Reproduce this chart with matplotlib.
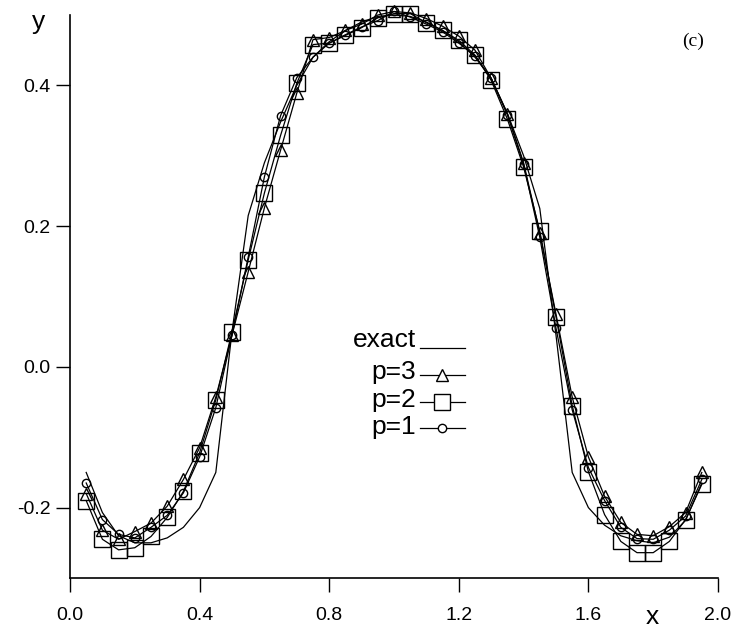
import matplotlib
matplotlib.use("Agg")
import matplotlib.pyplot as plt
from matplotlib.lines import Line2D

plt.rcParams['font.family'] = ['Liberation Sans', 'DejaVu Sans']

# sample positions
x = [0.05, 0.10, 0.15, 0.20, 0.25, 0.30, 0.35, 0.40, 0.45, 0.50,
     0.55, 0.60, 0.65, 0.70, 0.75, 0.80, 0.85, 0.90, 0.95, 1.00,
     1.05, 1.10, 1.15, 1.20, 1.25, 1.30, 1.35, 1.40, 1.45, 1.50,
     1.55, 1.60, 1.65, 1.70, 1.75, 1.80, 1.85, 1.90, 1.95]

y_exact = [-0.150, -0.207, -0.240, -0.250, -0.250, -0.243, -0.228, -0.200, -0.150, 0.050,
           0.215, 0.290, 0.348, 0.400, 0.440, 0.462, 0.478, 0.490, 0.498, 0.500,
           0.498, 0.490, 0.478, 0.462, 0.440, 0.410, 0.360, 0.300, 0.225, 0.045,
           -0.150, -0.200, -0.225, -0.240, -0.247, -0.250, -0.242, -0.218, -0.165]

y_p3 = [-0.180, -0.232, -0.245, -0.234, -0.222, -0.198, -0.160, -0.115, -0.043, 0.045,
        0.135, 0.226, 0.308, 0.389, 0.465, 0.468, 0.478, 0.487, 0.500, 0.505,
        0.503, 0.495, 0.484, 0.470, 0.450, 0.410, 0.360, 0.290, 0.190, 0.075,
        -0.043, -0.128, -0.184, -0.221, -0.238, -0.240, -0.227, -0.207, -0.150]

y_p2 = [-0.190, -0.245, -0.260, -0.257, -0.241, -0.214, -0.177, -0.122, -0.047, 0.050,
        0.152, 0.247, 0.329, 0.403, 0.458, 0.460, 0.471, 0.482, 0.496, 0.502,
        0.502, 0.489, 0.478, 0.464, 0.443, 0.407, 0.352, 0.284, 0.193, 0.071,
        -0.055, -0.149, -0.210, -0.248, -0.264, -0.264, -0.248, -0.217, -0.167]

y_p1 = [-0.165, -0.217, -0.238, -0.243, -0.228, -0.211, -0.179, -0.128, -0.058, 0.045,
        0.156, 0.270, 0.357, 0.411, 0.440, 0.460, 0.472, 0.483, 0.492, 0.505,
        0.497, 0.487, 0.476, 0.460, 0.442, 0.410, 0.358, 0.288, 0.184, 0.055,
        -0.061, -0.143, -0.190, -0.228, -0.244, -0.245, -0.232, -0.212, -0.160]

x_ticks = [0.0, 0.4, 0.8, 1.2, 1.6, 2.0]
y_ticks = [-0.2, 0.0, 0.2, 0.4]
labels = ['exact', 'p=3', 'p=2', 'p=1']

fig = plt.figure(figsize=(7.36, 6.35), dpi=100)
ax = fig.add_axes([70 / 736, 57 / 635, 648 / 736, 563 / 635])

ax.plot(x, y_exact, color='black', lw=0.9, clip_on=False)
ax.plot(x, y_p3, color='black', lw=0.9, marker='^', ms=9, mfc='none', mec='black', mew=1.0, clip_on=False)
ax.plot(x, y_p2, color='black', lw=0.9, marker='s', ms=12, mfc='none', mec='black', mew=1.0, clip_on=False)
ax.plot(x, y_p1, color='black', lw=0.9, marker='o', ms=6, mfc='none', mec='black', mew=1.0, clip_on=False)

ax.set_xlim(0.0, 2.0)
ax.set_ylim(-0.3, 0.5)
ax.set_xticks(x_ticks)
ax.set_xticklabels(['%.1f' % v for v in x_ticks])
ax.set_yticks(y_ticks)
ax.set_yticklabels(['%.1f' % v for v in y_ticks])
ax.spines['top'].set_visible(False)
ax.spines['right'].set_visible(False)
ax.spines['left'].set_linewidth(1.2)
ax.spines['bottom'].set_linewidth(1.2)
ax.tick_params(axis='both', direction='out', length=10, width=1.0, labelsize=14)
ax.tick_params(axis='x', pad=11)
ax.tick_params(axis='y', pad=4)

# axis labels
fig.text(39 / 736, 1 - 22 / 635, 'y', fontsize=19, ha='center', va='center')
fig.text(652 / 736, 1 - 617 / 635, 'x', fontsize=19, ha='center', va='center')
fig.text(693 / 736, 1 - 41 / 635, '(c)', fontsize=14, ha='center', va='center',
         family=['Liberation Serif', 'DejaVu Serif'])

# hand-made legend, text on the left, sample on the right
rows = [(347, 348, None, 0), (379, 375, '^', 9), (407, 402, 's', 12), (434, 428, 'o', 6)]
for lab, (base, ly, mk, ms) in zip(labels, rows):
    fig.text(416 / 736, 1 - base / 635, lab, fontsize=19, ha='right', va='baseline')
    fig.add_artist(Line2D([420 / 736, 465 / 736], [1 - ly / 635, 1 - ly / 635],
                          transform=fig.transFigure, color='black', lw=0.9))
    if mk is not None:
        fig.add_artist(Line2D([442 / 736], [1 - ly / 635], transform=fig.transFigure,
                              marker=mk, ms=ms, mfc='white', mec='black', mew=1.0,
                              color='black', lw=0))

fig.savefig('out.png', dpi=100)
